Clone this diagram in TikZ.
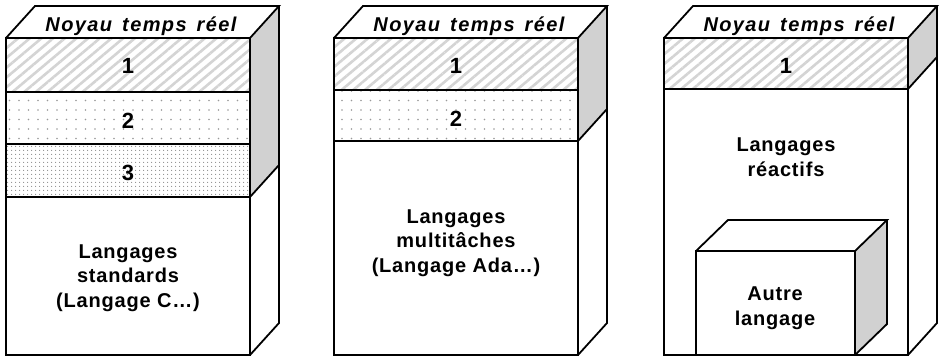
\documentclass[tikz,border=0pt]{standalone}
\usepackage{fontspec}
\setmainfont{Liberation Sans}
\usetikzlibrary{patterns.meta}

\tikzset{
  face/.style={draw,line width=1.8pt,line join=miter},
  side/.style={fill=black!18},
  hatch/.style={pattern={Lines[angle=40,distance=7.5pt,line width=2.6pt]},pattern color=black!17},
  sparse/.style={pattern={Dots[radius=0.8pt,distance=9.5pt]},pattern color=black!40},
  dense/.style={pattern={Dots[radius=0.65pt,distance=4pt]},pattern color=black!45},
  lbl/.style={font=\bfseries\fontsize{20}{24.5}\selectfont\addfontfeature{LetterSpace=4},align=center,inner sep=0pt,anchor=base},
  num/.style={lbl,font=\bfseries\fontsize{22}{24}\selectfont},
  roof/.style={font=\bfseries\itshape\fontsize{20}{22}\selectfont\addfontfeature{LetterSpace=7},inner sep=0pt,anchor=base}
}
\newcommand{\roofname}{Noyau\hspace{0.5em}temps\hspace{0.5em}réel}

\begin{document}
\begin{tikzpicture}[x=1pt,y=-1pt]
\useasboundingbox (0,0) rectangle (941,357);

% layered bands
\fill[hatch]  (6,38) rectangle (250,92);
\fill[sparse] (6,92) rectangle (250,144);
\fill[dense]  (6,144) rectangle (250,197);
\fill[hatch]  (334,38) rectangle (578,90);
\fill[sparse] (334,90) rectangle (578,141);
\fill[hatch]  (664,38) rectangle (908,89);

% the three columns: front, roof and side
\foreach \x/\g in {6/197,334/141,664/89} {
  \fill[side] (\x+244,38) -- ++(29,-32) -- (\x+273,\g-32) -- (\x+244,\g) -- cycle;
  \draw[face] (\x+244,\g) -- (\x+273,\g-32);
  \draw[face] (\x,38) rectangle (\x+244,355);
  \draw[face] (\x,38) -- ++(29,-32) -- ++(244,0) -- ++(-29,32);
  \draw[face] (\x+273,6) -- ++(0,317) -- (\x+244,355);
}
\draw[face] (6,92) -- (250,92) (6,144) -- (250,144) (6,197) -- (250,197);
\draw[face] (334,90) -- (578,90) (334,141) -- (578,141);
\draw[face] (664,89) -- (908,89);

% small box inside the third column
\fill[side] (855,251) -- (887,220) -- (887,324) -- (855,355) -- cycle;
\draw[face,fill=white] (696,251) rectangle (855,355);
\draw[face] (696,251) -- (728,220) -- (887,220) -- (855,251)
  (887,220) -- (887,324) -- (855,355);

% texts (base = last line)
\node[roof] (roofA) at (141,31) {\roofname};
\node[roof] (roofB) at (469,31) {\roofname};
\node[roof] (roofC) at (799,31) {\roofname};
\node[num] (a1) at (128,73) {1};
\node[num] (a2) at (128,128) {2};
\node[num] (a3) at (128,180) {3};
\node[lbl] (langA) at (128,307) {Langages\\standards\\(Langage C…)};
\node[num] (b1) at (456,73) {1};
\node[num] (b2) at (456,126) {2};
\node[lbl] (langB) at (456,272) {Langages\\multitâches\\(Langage Ada…)};
\node[num] (c1) at (786,73) {1};
\node[lbl] (langC) at (786,176) {Langages\\réactifs};
\node[lbl] (other) at (775,325) {Autre\\langage};
\end{tikzpicture}
\end{document}
